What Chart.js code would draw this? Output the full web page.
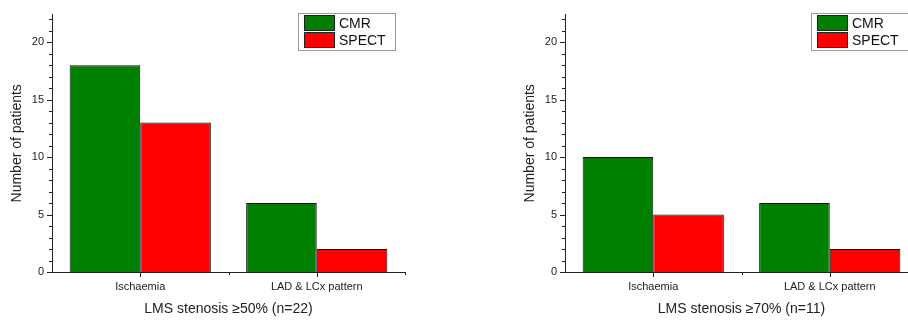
<!DOCTYPE html>
<html lang="en">
<head>
  <meta charset="UTF-8">
  <title>CMR vs SPECT</title>
  <script src="https://cdn.jsdelivr.net/npm/chart.js"></script>
  <style>
    body { margin: 0; width: 908px; height: 320px; overflow: hidden; background: #fff; position: relative; }
    canvas { position: absolute; top: 0; }
    #chart50 { left: 0; }
    #chart70 { left: 513px; }
  </style>
</head>
<body>
  <canvas id="chart50" width="460" height="320"></canvas>
  <canvas id="chart70" width="460" height="320"></canvas>

  <script>
    const categories = ['Ischaemia', 'LAD & LCx pattern'];
    const seriesNames = ['CMR', 'SPECT'];
    const cmr50 = [18, 6];
    const spect50 = [13, 2];
    const cmr70 = [10, 6];
    const spect70 = [5, 2];
    const yMax = 22.4;
    const titles = ['LMS stenosis \u226550% (n=22)', 'LMS stenosis \u226570% (n=11)'];

    const FONT = 'Arial, "Liberation Sans", sans-serif';
    const colors = ['#008000', '#ff0000'];

    // tick marks drawn by hand: major/minor on y, centres/boundaries on x
    const tickPlugin = {
      id: 'ticks',
      afterDraw(chart) {
        const ctx = chart.ctx;
        const y = chart.scales.y, x = chart.scales.x;
        ctx.save();
        ctx.strokeStyle = '#222';
        ctx.lineWidth = 1;
        ctx.beginPath();
        for (let v = 0; v <= Math.floor(yMax); v++) {
          const py = Math.round(y.getPixelForValue(v)) + 0.5;
          const len = v % 5 === 0 ? 5 : 3;
          ctx.moveTo(y.right - len, py);
          ctx.lineTo(y.right, py);
        }
        const half = (x.getPixelForValue(1) - x.getPixelForValue(0)) / 2;
        categories.forEach((c, i) => {
          const px = Math.round(x.getPixelForValue(i)) + 0.5;
          ctx.moveTo(px, x.top);
          ctx.lineTo(px, x.top + 5);
          const pb = Math.round(x.getPixelForValue(i) + half) + 0.5;
          ctx.moveTo(pb, x.top);
          ctx.lineTo(pb, x.top + 3);
        });
        ctx.stroke();
        ctx.restore();
      }
    };

    // boxed legend in the top-right corner of the plot
    const boxLegend = {
      id: 'boxLegend',
      afterDraw(chart) {
        const ctx = chart.ctx;
        const area = chart.chartArea;
        const bx = area.right - 107, by = 13, bw = 97, bh = 37;
        ctx.save();
        ctx.strokeStyle = '#9a9a9a';
        ctx.lineWidth = 1;
        ctx.strokeRect(bx + 0.5, by + 0.5, bw, bh);
        chart.data.datasets.forEach((ds, i) => {
          const sy = by + 2 + i * 17;
          ctx.fillStyle = ds.backgroundColor;
          ctx.fillRect(bx + 6, sy, 31, 16);
          ctx.strokeStyle = '#222';
          ctx.strokeRect(bx + 6.5, sy + 0.5, 30, 15);
          ctx.fillStyle = '#111';
          ctx.font = '14px ' + FONT;
          ctx.textBaseline = 'middle';
          ctx.fillText(ds.label, bx + 41, sy + 9);
        });
        ctx.restore();
      }
    };

    function makeChart(id, cmr, spect, title) {
      new Chart(document.getElementById(id), {
        type: 'bar',
        data: {
          labels: categories,
          datasets: [
            { label: seriesNames[0], data: cmr, backgroundColor: colors[0], borderColor: '#111', borderWidth: 1 },
            { label: seriesNames[1], data: spect, backgroundColor: colors[1], borderColor: '#111', borderWidth: 1 }
          ]
        },
        options: {
          responsive: false,
          animation: false,
          devicePixelRatio: 1,
          layout: { padding: { top: 12, right: 55, left: 0, bottom: 0 } },
          datasets: { bar: { categoryPercentage: 0.8, barPercentage: 1.0 } },
          plugins: { legend: { display: false }, tooltip: { enabled: false } },
          scales: {
            x: {
              grid: { display: false, drawTicks: false },
              border: { color: '#222', width: 1 },
              ticks: { color: '#222', font: { size: 11, family: FONT }, padding: 8, maxRotation: 0 },
              title: { display: true, text: title, color: '#222', font: { size: 14, family: FONT }, padding: { top: 6, bottom: 2 } },
              afterFit(s) { s.height = 48; }
            },
            y: {
              min: 0,
              max: yMax,
              grid: { display: false, drawTicks: false },
              border: { color: '#222', width: 1 },
              ticks: {
                stepSize: 5, color: '#222', font: { size: 11, family: FONT }, padding: 8,
                callback: v => (v % 5 === 0 ? v : '')
              },
              title: { display: true, text: 'Number of patients', color: '#222', font: { size: 14, family: FONT }, padding: { top: 9, bottom: 0 } },
              afterFit(s) { s.width = 52; }
            }
          }
        },
        plugins: [tickPlugin, boxLegend]
      });
    }

    makeChart('chart50', cmr50, spect50, titles[0]);
    makeChart('chart70', cmr70, spect70, titles[1]);
  </script>
</body>
</html>
